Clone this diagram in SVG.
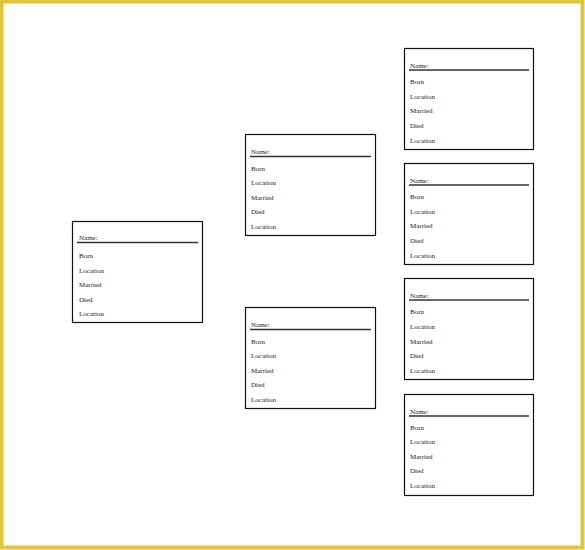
<svg xmlns="http://www.w3.org/2000/svg" width="585" height="550" viewBox="0 0 585 550">
<style>
.frame{fill:none;stroke:#e3c23c;stroke-width:4}
.box{fill:#fff;stroke:#111;stroke-width:1.2}
.rule{stroke:#333;stroke-width:1.4}
text{font-family:"Liberation Serif","Times New Roman",serif;font-size:7px;fill:#222}
</style>
<rect x="0" y="0" width="585" height="550" fill="#fff"/>
<rect class="frame" x="1.5" y="1.5" width="581" height="546"/>
<g id="connectors"></g>
<g id="person-1" transform="translate(72,221)">
<rect class="box" x="0.5" y="0.5" width="130" height="101"/>
<text x="7" y="19">Name:</text>
<line class="rule" x1="5" y1="21.5" x2="126" y2="21.5"/>
<text x="7" y="37">Born</text>
<text x="7" y="51.5">Location</text>
<text x="7" y="66">Married</text>
<text x="7" y="80.5">Died</text>
<text x="7" y="95">Location</text>
</g>
<g id="person-2" transform="translate(245,134)">
<rect class="box" x="0.5" y="0.5" width="130" height="101"/>
<text x="6" y="20">Name:</text>
<line class="rule" x1="5" y1="22.5" x2="126" y2="22.5"/>
<text x="6" y="36.5">Born</text>
<text x="6" y="51">Location</text>
<text x="6" y="65.5">Married</text>
<text x="6" y="80">Died</text>
<text x="6" y="95">Location</text>
</g>
<g id="person-3" transform="translate(245,307)">
<rect class="box" x="0.5" y="0.5" width="130" height="101"/>
<text x="6" y="20">Name:</text>
<line class="rule" x1="5" y1="22.5" x2="126" y2="22.5"/>
<text x="6" y="36.5">Born</text>
<text x="6" y="51">Location</text>
<text x="6" y="65.5">Married</text>
<text x="6" y="80">Died</text>
<text x="6" y="94.5">Location</text>
</g>
<g id="person-4" transform="translate(404,48)">
<rect class="box" x="0.5" y="0.5" width="129" height="101"/>
<text x="6" y="19.5">Name:</text>
<line class="rule" x1="5" y1="22" x2="125" y2="22"/>
<text x="6" y="35.5">Born</text>
<text x="6" y="50.5">Location</text>
<text x="6" y="64.5">Married</text>
<text x="6" y="79.5">Died</text>
<text x="6" y="94.5">Location</text>
</g>
<g id="person-5" transform="translate(404,163)">
<rect class="box" x="0.5" y="0.5" width="129" height="101"/>
<text x="6" y="19.5">Name:</text>
<line class="rule" x1="5" y1="22" x2="125" y2="22"/>
<text x="6" y="36">Born</text>
<text x="6" y="50.5">Location</text>
<text x="6" y="65">Married</text>
<text x="6" y="79.5">Died</text>
<text x="6" y="94.5">Location</text>
</g>
<g id="person-6" transform="translate(404,278)">
<rect class="box" x="0.5" y="0.5" width="129" height="101"/>
<text x="6" y="19.5">Name:</text>
<line class="rule" x1="5" y1="22" x2="125" y2="22"/>
<text x="6" y="36">Born</text>
<text x="6" y="50.5">Location</text>
<text x="6" y="65.5">Married</text>
<text x="6" y="80">Died</text>
<text x="6" y="94.5">Location</text>
</g>
<g id="person-7" transform="translate(404,394)">
<rect class="box" x="0.5" y="0.5" width="129" height="101"/>
<text x="6" y="19.5">Name:</text>
<line class="rule" x1="5" y1="22" x2="125" y2="22"/>
<text x="6" y="35.5">Born</text>
<text x="6" y="50">Location</text>
<text x="6" y="64.5">Married</text>
<text x="6" y="79">Died</text>
<text x="6" y="93.5">Location</text>
</g>
</svg>
